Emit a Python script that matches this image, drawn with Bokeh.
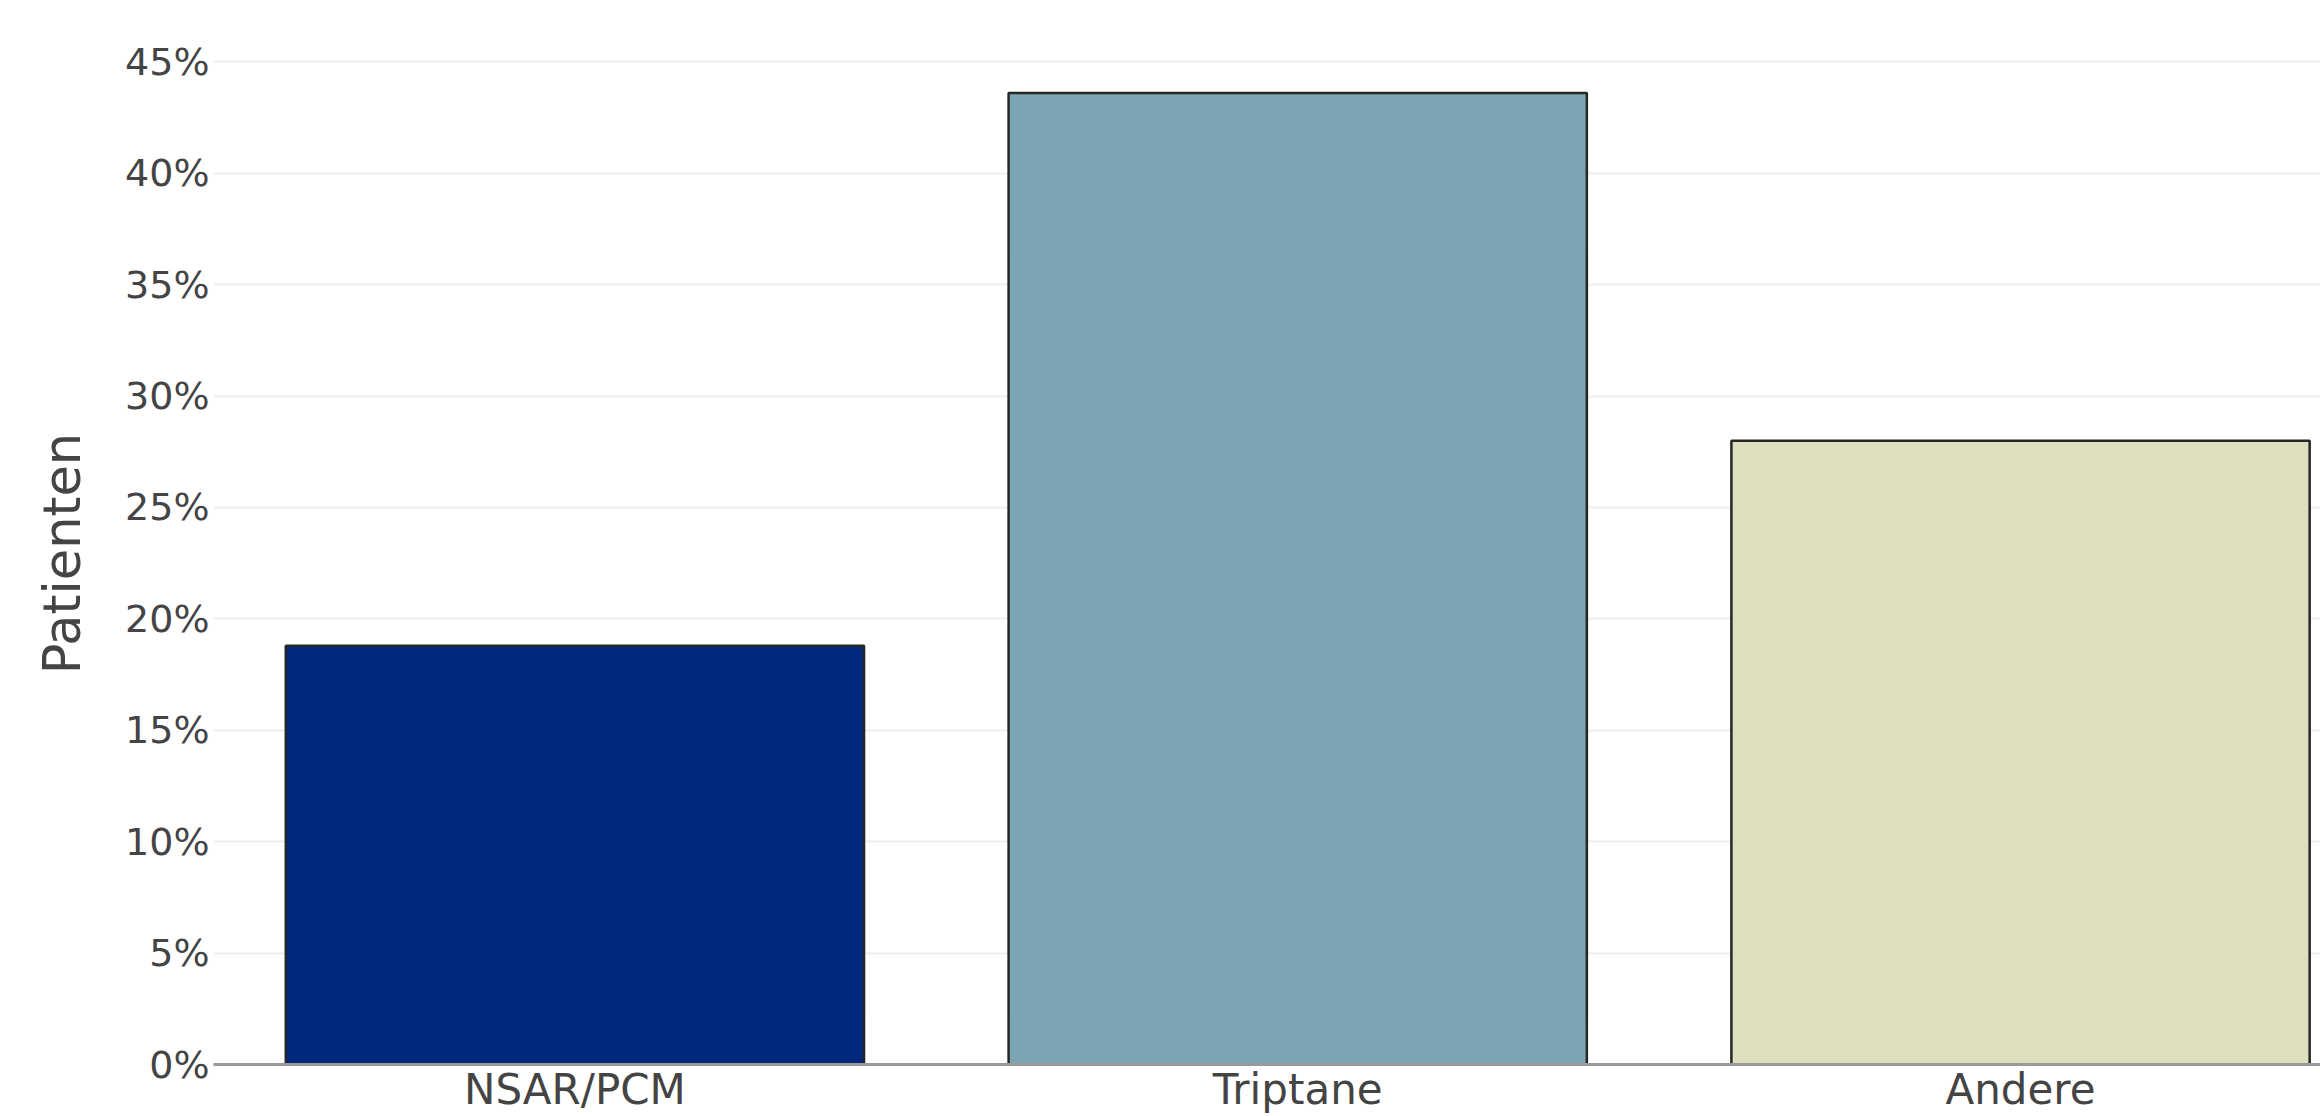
from bokeh.plotting import figure
from bokeh.models import Range1d, FixedTicker, PrintfTickFormatter, ColumnDataSource
from bokeh.embed import file_html
from bokeh.resources import INLINE

# ---- data ----
categories = ["NSAR/PCM", "Triptane", "Andere"]
patients_pct = [18.8, 43.6, 28.0]
bar_colors = ["#00297E", "#7BA5B3", "#DEDFBF"]
y_ticks = [0, 5, 10, 15, 20, 25, 30, 35, 40, 45]

FONT = "DejaVu Sans"
TXT = "#444444"

xs = list(range(len(categories)))
src = ColumnDataSource(dict(x=xs, top=patients_pct, color=bar_colors))

p = figure(width=2320, height=1116, output_backend="svg", toolbar_location=None,
           x_range=Range1d(-0.5, 2.415), y_range=Range1d(0, 45.87),
           min_border_left=213, min_border_right=0, min_border_top=42, min_border_bottom=52)
p.outline_line_color = None
p.background_fill_color = "white"
p.border_fill_color = "white"

p.vbar(x="x", top="top", width=0.8, source=src, fill_color="color",
       line_color="#262626", line_width=2.5)

# y axis
ya = p.yaxis[0]
ya.ticker = FixedTicker(ticks=y_ticks)
ya.formatter = PrintfTickFormatter(format="%d%%")
ya.axis_line_color = None
ya.major_tick_line_color = None
ya.minor_tick_line_color = None
ya.major_tick_out = 0
ya.major_tick_in = 0
ya.major_label_standoff = 4
ya.major_label_text_font = FONT
ya.major_label_text_font_size = "38px"
ya.major_label_text_color = TXT
ya.axis_label = "Patienten"
ya.axis_label_text_font = FONT
ya.axis_label_text_font_size = "51px"
ya.axis_label_text_font_style = "normal"
ya.axis_label_text_color = TXT
ya.axis_label_standoff = 30

# x axis
xa = p.xaxis[0]
xa.ticker = FixedTicker(ticks=xs)
xa.major_label_overrides = {i: c for i, c in zip(xs, categories)}
xa.major_tick_line_color = None
xa.minor_tick_line_color = None
xa.major_tick_out = 0
xa.major_tick_in = 0
xa.major_label_standoff = 0
xa.major_label_text_font = FONT
xa.major_label_text_font_size = "42px"
xa.major_label_text_color = TXT
xa.axis_line_color = "#9a9a9a"
xa.axis_line_width = 3

p.xgrid.grid_line_color = None
p.ygrid.ticker = FixedTicker(ticks=y_ticks)
p.ygrid.grid_line_color = "#eeeeee"
p.ygrid.grid_line_width = 2

open("out.html", "w").write(file_html(p, INLINE))
